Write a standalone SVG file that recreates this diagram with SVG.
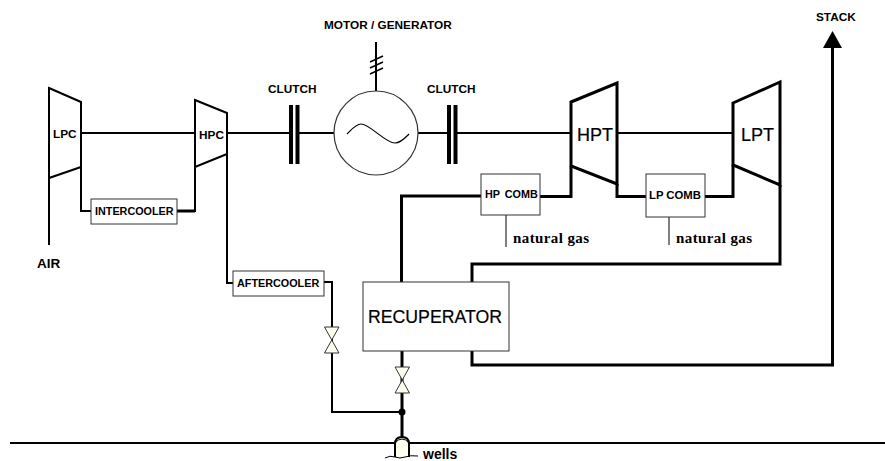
<svg xmlns="http://www.w3.org/2000/svg" width="885" height="461" viewBox="0 0 885 461">
<style>
.l{fill:none;stroke:#000;stroke-linejoin:miter}
.s1{stroke-width:1.5}.s2{stroke-width:2}.s3{stroke-width:3}
.box{fill:#fff;stroke:#333;stroke-width:1}
text{font-family:"Liberation Sans",Arial,sans-serif;fill:#000}
.b{font-weight:bold;font-size:11.800px}
.c{font-weight:bold;font-size:10.800px}
.t{font-size:18px;stroke:#000;stroke-width:.2}
.g{font-family:"Liberation Serif","Times New Roman",serif;font-weight:bold;font-size:15px;letter-spacing:.4px}
.v{fill:#fffff0;stroke:#333;stroke-width:1}
</style>
<rect width="885" height="461" fill="#fff"/>
<g id="connectors">
<path class="l s2" d="M49 178V245"/>
<path class="l s2" d="M81 167V211H91"/>
<path class="l s3" d="M177 211H195"/>
<path class="l s2" d="M195 212V167"/>
<path class="l s2" d="M81 133H195"/>
<path class="l s2" d="M227 133H289"/>
<path class="l s2" d="M299 133H334"/>
<path class="l s2" d="M418 133H447"/>
<path class="l s2" d="M457 133H571"/>
<path class="l s2" d="M617 133H733"/>
<path class="l s2" d="M227 154V283H233"/>
<path class="l s2" d="M324 282H332V412H402"/>
<path class="l s3" d="M401.500 282V196H481"/>
<path class="l s3" d="M540 196.500H571V166"/>
<path class="l s3" d="M617 184V196.500H646"/>
<path class="l s3" d="M705 196.500H733V165"/>
<path class="l s3" d="M780 185V264H472V282"/>
<path class="l s3" d="M472 351V365H832.500V46"/>
<path class="l s3" d="M402 351V438"/>
<path class="l" stroke="#444" stroke-width="1" d="M506 215V247M669 217V245"/>
<path class="l s2" d="M376 91V42"/>
<path class="l s1" d="M370 62L383 56M370 68L383 62M370 74L383 68"/>
<path class="l s2" d="M10 443H885"/>
<polygon points="832.500,31 823,48 842,48" fill="#000"/>
<circle cx="402" cy="412" r="3.500" fill="#000"/>
</g>
<g id="lpc"><path class="l s2" d="M49 88L81 102V167L49 178Z"/><text class="b" x="53" y="138">LPC</text></g>
<g id="hpc"><path class="l s2" d="M195 100L227 113V154L195 167Z"/><text class="b" x="199" y="139">HPC</text></g>
<g id="clutch1"><text class="b" x="268" y="92.500">CLUTCH</text><path class="l" stroke-width="4" d="M291 105V164M297.500 105V164"/></g>
<g id="clutch2"><text class="b" x="427" y="92.500">CLUTCH</text><path class="l" stroke-width="4" d="M449 105V164M455.500 105V164"/></g>
<g id="generator"><text class="b" x="324" y="28.500">MOTOR / GENERATOR</text><circle cx="376" cy="133" r="42" fill="#fff" stroke="#333" stroke-width="1.200"/><path class="l" stroke="#333" stroke-width="1.200" d="M347 134C352 129 356 124 361 124C370 124 385 143 395 143C401 143 405 138 409 134"/></g>
<g id="hpt"><path class="l s3" d="M571 102L617 83V184L571 166Z"/><text class="t" x="577" y="141">HPT</text></g>
<g id="lpt"><path class="l s3" d="M733 103L780 82V185L733 165Z"/><text class="t" x="741" y="141">LPT</text></g>
<g id="intercooler"><rect class="box" x="91" y="199" width="86" height="25"/><text class="c" x="95" y="215">INTERCOOLER</text></g>
<g id="aftercooler"><rect class="box" x="233" y="271" width="91" height="25"/><text class="c" x="237" y="287">AFTERCOOLER</text></g>
<g id="hp-comb"><rect class="box" x="481" y="174" width="59" height="41"/><text class="c" x="485" y="198" word-spacing="2">HP COMB</text><text class="g" x="513" y="243">natural gas</text></g>
<g id="lp-comb"><rect class="box" x="646" y="174" width="59" height="43"/><text class="c" x="649" y="199" style="font-size:11.300px">LP COMB</text><text class="g" x="676" y="243">natural gas</text></g>
<g id="recuperator"><rect class="box" x="363" y="282" width="146" height="69"/><text class="t" x="368" y="323" style="font-size:17.700px">RECUPERATOR</text></g>
<g id="valve1"><path class="v" d="M324.500 327H339L324.500 353H339Z"/></g>
<g id="valve2"><path class="v" d="M395 367H409.500L395 393H409.500Z"/></g>
<g id="wells"><path d="M395 457V444Q395 437 402 437Q409 437 409 444V457Z" fill="#fffff0"/><path class="l s2" d="M395 457V444Q395 437 402 437Q409 437 409 444V457"/><path class="l" stroke-width="1" d="M395 443Q398 439 402 439Q406 439 409 443"/><path class="l" stroke-width="1" d="M385 458Q390 455 395 457T405 457T418 456"/><text x="423" y="459" style="font-weight:bold;font-size:14px">wells</text></g>
<g id="stack"><text class="b" x="816" y="21">STACK</text></g>
<g id="air"><text x="37" y="268" style="font-weight:bold;font-size:13.500px">AIR</text></g>
</svg>
